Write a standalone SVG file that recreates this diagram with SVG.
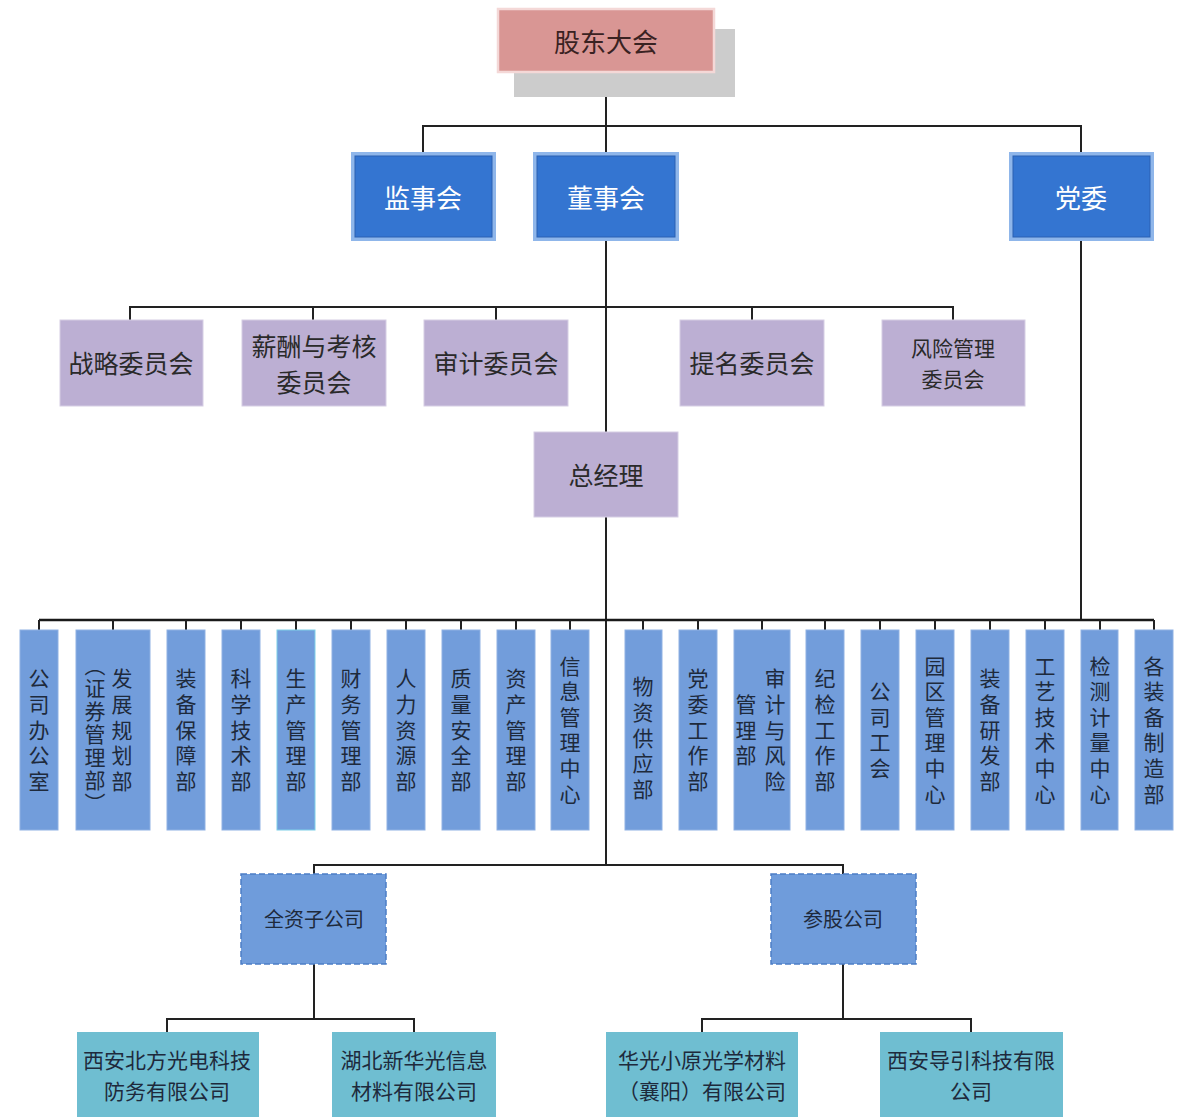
<svg xmlns="http://www.w3.org/2000/svg" width="1183" height="1117" viewBox="0 0 1183 1117">
<style>
text{font-family:"Noto Sans CJK SC","Noto Sans CJK JP",sans-serif;}
.ln{stroke:#222;stroke-width:2;fill:none;}
.bus{stroke:#1a1a1a;stroke-width:2.6;fill:none;}
.blueO{fill:#8FB6EA;}
.blueI{fill:#3475D1;stroke:#2A60B2;stroke-width:1;}
.wt{fill:#fff;font-size:26px;text-anchor:middle;dominant-baseline:central;}
.com{fill:#BCAFD3;stroke:#D6CEE4;stroke-width:1;}
.ct{fill:#2a2a2a;font-size:25px;text-anchor:middle;dominant-baseline:central;}
.ct2{fill:#2a2a2a;font-size:21px;text-anchor:middle;dominant-baseline:central;}
.dep{fill:#729DDB;stroke:#8FB1E3;stroke-width:1;}
.vt{fill:#1e2a3c;font-size:21px;text-anchor:middle;writing-mode:vertical-rl;letter-spacing:4.6px;}
.sub{fill:#6F9CDB;stroke:#4C7DC6;stroke-width:1.5;stroke-dasharray:6 3;}
.st{fill:#1e2a3c;font-size:20px;text-anchor:middle;dominant-baseline:central;}
.leaf{fill:#6FBED1;}
.lt{fill:#1e2a3c;font-size:21px;text-anchor:middle;dominant-baseline:central;}
</style>

<g id="connectors">
  <!-- top trunk -->
  <line class="ln" x1="606" y1="72" x2="606" y2="153"/>
  <polyline class="ln" points="423,153 423,126 1081,126 1081,153"/>
  <line class="ln" x1="606" y1="240" x2="606" y2="432"/>
  <!-- committees -->
  <polyline class="ln" points="130,320 130,307 953,307 953,320"/>
  <line class="ln" x1="313" y1="307" x2="313" y2="320"/>
  <line class="ln" x1="496" y1="307" x2="496" y2="320"/>
  <line class="ln" x1="752" y1="307" x2="752" y2="320"/>
  <!-- party line -->
  <line class="ln" x1="1081" y1="240" x2="1081" y2="620"/>
  <!-- general manager down -->
  <line class="ln" x1="606" y1="517" x2="606" y2="865"/>
  <!-- department bus -->
  <line class="bus" x1="39" y1="620" x2="1154" y2="620"/>
  <g class="ln">
    <line x1="39" y1="620" x2="39" y2="630"/>
    <line x1="113" y1="620" x2="113" y2="630"/>
    <line x1="186" y1="620" x2="186" y2="630"/>
    <line x1="241" y1="620" x2="241" y2="630"/>
    <line x1="296" y1="620" x2="296" y2="630"/>
    <line x1="351" y1="620" x2="351" y2="630"/>
    <line x1="406" y1="620" x2="406" y2="630"/>
    <line x1="461" y1="620" x2="461" y2="630"/>
    <line x1="516" y1="620" x2="516" y2="630"/>
    <line x1="570" y1="620" x2="570" y2="630"/>
    <line x1="643" y1="620" x2="643" y2="630"/>
    <line x1="698" y1="620" x2="698" y2="630"/>
    <line x1="762" y1="620" x2="762" y2="630"/>
    <line x1="825" y1="620" x2="825" y2="630"/>
    <line x1="880" y1="620" x2="880" y2="630"/>
    <line x1="935" y1="620" x2="935" y2="630"/>
    <line x1="990" y1="620" x2="990" y2="630"/>
    <line x1="1045" y1="620" x2="1045" y2="630"/>
    <line x1="1100" y1="620" x2="1100" y2="630"/>
    <line x1="1154" y1="620" x2="1154" y2="630"/>
  </g>
  <!-- subsidiaries -->
  <polyline class="ln" points="314,874 314,865 843,865 843,874"/>
  <line class="ln" x1="314" y1="964" x2="314" y2="1019"/>
  <polyline class="ln" points="167,1032 167,1019 414,1019 414,1032"/>
  <line class="ln" x1="843" y1="964" x2="843" y2="1019"/>
  <polyline class="ln" points="702,1032 702,1019 971,1019 971,1032"/>
</g>

<g id="gudong">
  <rect x="514" y="29" width="221" height="68" fill="#CCCCCC"/>
  <rect x="498" y="9" width="216" height="63" fill="#D99694" stroke="#F4D8D7" stroke-width="2.5"/>
  <text x="606" y="40" style="fill:#3a2222;font-size:26px;text-anchor:middle;dominant-baseline:central;">股东大会</text>
</g>

<g id="jianshi">
  <rect class="blueO" x="351" y="152" width="145" height="89"/>
  <rect class="blueI" x="355" y="156" width="137" height="81"/>
  <text class="wt" x="423" y="196">监事会</text>
</g>
<g id="dongshi">
  <rect class="blueO" x="533" y="152" width="146" height="89"/>
  <rect class="blueI" x="537" y="156" width="138" height="81"/>
  <text class="wt" x="606" y="196">董事会</text>
</g>
<g id="dangwei">
  <rect class="blueO" x="1009" y="152" width="145" height="89"/>
  <rect class="blueI" x="1013" y="156" width="137" height="81"/>
  <text class="wt" x="1081" y="196">党委</text>
</g>

<g id="zhanlue">
  <rect class="com" x="60" y="320" width="143" height="86"/>
  <text class="ct" x="131" y="362">战略委员会</text>
</g>
<g id="xinchou">
  <rect class="com" x="242" y="320" width="144" height="86"/>
  <text class="ct" x="314" y="345">薪酬与考核</text>
  <text class="ct" x="314" y="381">委员会</text>
</g>
<g id="shenji">
  <rect class="com" x="424" y="320" width="144" height="86"/>
  <text class="ct" x="496" y="362">审计委员会</text>
</g>
<g id="timing">
  <rect class="com" x="680" y="320" width="144" height="86"/>
  <text class="ct" x="752" y="362">提名委员会</text>
</g>
<g id="fengxian">
  <rect class="com" x="882" y="320" width="143" height="86"/>
  <text class="ct2" x="953" y="347">风险管理</text>
  <text class="ct2" x="953" y="378">委员会</text>
</g>

<g id="zongjingli">
  <rect class="com" x="534" y="432" width="144" height="85"/>
  <text class="ct" x="606" y="474">总经理</text>
</g>

<g id="d1"><rect class="dep" x="20" y="630" width="38" height="200"/><text class="vt" x="39" y="732">公司办公室</text></g>
<g id="d2"><rect class="dep" x="76" y="630" width="74" height="200"/>
  <text class="vt" x="122" y="732">发展规划部</text>
  <text class="vt" x="95" y="735" style="letter-spacing:2px">（证券管理部）</text></g>
<g id="d3"><rect class="dep" x="167" y="630" width="38" height="200"/><text class="vt" x="186" y="732">装备保障部</text></g>
<g id="d4"><rect class="dep" x="222" y="630" width="38" height="200"/><text class="vt" x="241" y="732">科学技术部</text></g>
<g id="d5"><rect class="dep" x="277" y="630" width="38" height="200" style="stroke:#7FD0E8"/><text class="vt" x="296" y="732">生产管理部</text></g>
<g id="d6"><rect class="dep" x="332" y="630" width="38" height="200"/><text class="vt" x="351" y="732">财务管理部</text></g>
<g id="d7"><rect class="dep" x="387" y="630" width="38" height="200"/><text class="vt" x="406" y="732">人力资源部</text></g>
<g id="d8"><rect class="dep" x="442" y="630" width="38" height="200"/><text class="vt" x="461" y="732">质量安全部</text></g>
<g id="d9"><rect class="dep" x="497" y="630" width="38" height="200"/><text class="vt" x="516" y="732">资产管理部</text></g>
<g id="d10"><rect class="dep" x="551" y="630" width="38" height="200"/><text class="vt" x="570" y="732">信息管理中心</text></g>
<g id="d11"><rect class="dep" x="625" y="630" width="37" height="200"/><text class="vt" x="643" y="740">物资供应部</text></g>
<g id="d12"><rect class="dep" x="679" y="630" width="38" height="200"/><text class="vt" x="698" y="732">党委工作部</text></g>
<g id="d13"><rect class="dep" x="734" y="630" width="56" height="200"/>
  <text class="vt" x="775" y="732">审计与风险</text>
  <text class="vt" x="746" y="732">管理部</text></g>
<g id="d14"><rect class="dep" x="806" y="630" width="38" height="200"/><text class="vt" x="825" y="732">纪检工作部</text></g>
<g id="d15"><rect class="dep" x="861" y="630" width="38" height="200"/><text class="vt" x="880" y="732">公司工会</text></g>
<g id="d16"><rect class="dep" x="916" y="630" width="38" height="200"/><text class="vt" x="935" y="732">园区管理中心</text></g>
<g id="d17"><rect class="dep" x="971" y="630" width="38" height="200"/><text class="vt" x="990" y="732">装备研发部</text></g>
<g id="d18"><rect class="dep" x="1026" y="630" width="38" height="200"/><text class="vt" x="1045" y="732">工艺技术中心</text></g>
<g id="d19"><rect class="dep" x="1081" y="630" width="37" height="200"/><text class="vt" x="1100" y="732">检测计量中心</text></g>
<g id="d20"><rect class="dep" x="1135" y="630" width="38" height="200"/><text class="vt" x="1154" y="732">各装备制造部</text></g>

<g id="quanzi">
  <rect class="sub" x="241" y="874" width="145" height="90"/>
  <text class="st" x="314" y="918">全资子公司</text>
</g>
<g id="cangu">
  <rect class="sub" x="771" y="874" width="145" height="90"/>
  <text class="st" x="843" y="918">参股公司</text>
</g>

<g id="xian-beifang">
  <rect class="leaf" x="77" y="1032" width="182" height="90"/>
  <text class="lt" x="167" y="1059">西安北方光电科技</text>
  <text class="lt" x="167" y="1090">防务有限公司</text>
</g>
<g id="hubei-xinhuaguang">
  <rect class="leaf" x="332" y="1032" width="164" height="90"/>
  <text class="lt" x="414" y="1059">湖北新华光信息</text>
  <text class="lt" x="414" y="1090">材料有限公司</text>
</g>
<g id="huaguang-xiaoyuan">
  <rect class="leaf" x="606" y="1032" width="192" height="90"/>
  <text class="lt" x="702" y="1059">华光小原光学材料</text>
  <text class="lt" x="702" y="1090">（襄阳）有限公司</text>
</g>
<g id="xian-daoyin">
  <rect class="leaf" x="880" y="1032" width="183" height="90"/>
  <text class="lt" x="971" y="1059">西安导引科技有限</text>
  <text class="lt" x="971" y="1090">公司</text>
</g>
</svg>
